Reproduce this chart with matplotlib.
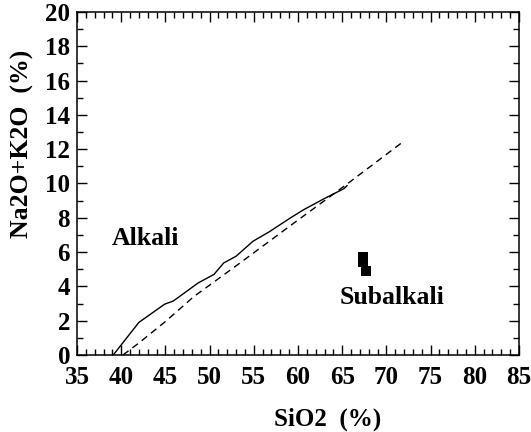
import matplotlib
matplotlib.use("Agg")
import matplotlib.pyplot as plt
from matplotlib.ticker import MultipleLocator

# Boundary lines (SiO2 %, Na2O+K2O %)
solid_x = [39.1, 42.0, 44.9, 45.9, 48.7, 50.5, 51.6, 53.0, 54.9, 56.8, 59.1, 60.6, 62.9, 65.2, 65.6]
solid_y = [0.0, 1.9, 2.96, 3.15, 4.2, 4.7, 5.37, 5.76, 6.63, 7.2, 7.98, 8.46, 9.1, 9.7, 9.9]
dashed_x = [40.2, 42.0, 45.0, 48.2, 53.4, 59.5, 63.0, 65.5, 71.8]
dashed_y = [0.0, 0.7, 1.95, 3.4, 5.35, 7.68, 9.0, 9.95, 12.4]

# Samples
sample_x = [67.4, 67.4, 67.7]
sample_y = [5.7, 5.4, 4.9]

region_labels = ["Alkali", "Subalkali"]
region_x = [42.7, 70.6]
region_y = [6.8, 3.35]

plt.rcParams['font.family'] = ['Liberation Serif', 'DejaVu Serif']
plt.rcParams['font.weight'] = 'bold'

fig = plt.figure(figsize=(5.31, 4.32), dpi=100)
ax = fig.add_axes([77/531, 1 - 355/432, 442/531, 343/432])

ax.plot(solid_x, solid_y, color='black', lw=1.0, solid_capstyle='butt')
ax.plot(dashed_x, dashed_y, color='black', lw=1.0, dashes=(5, 3.5))
ax.scatter(sample_x, sample_y, marker='s', s=50, color='black', zorder=3, linewidths=0)

for t, x, y in zip(region_labels, region_x, region_y):
    ax.text(x, y, t, ha='center', va='center', fontsize=18.5, fontweight='bold')

ax.set_xlim(35, 85)
ax.set_ylim(0, 20)
ax.xaxis.set_major_locator(MultipleLocator(5))
ax.xaxis.set_minor_locator(MultipleLocator(1))
ax.yaxis.set_major_locator(MultipleLocator(2))
ax.yaxis.set_minor_locator(MultipleLocator(1))
ax.tick_params(which='both', direction='in', top=True, right=True, width=1.0)
ax.tick_params(which='major', length=7, labelsize=18)
ax.tick_params(which='minor', length=4)
ax.tick_params(axis='x', which='major', pad=8)
ax.tick_params(axis='y', which='major', pad=5)
for lab in ax.get_xticklabels() + ax.get_yticklabels():
    lab.set_fontweight('bold')
for s in ax.spines.values():
    s.set_linewidth(1.1)

ax.set_xlabel("SiO2  (%)", fontsize=18, fontweight='bold')
ax.set_ylabel("Na2O+K2O  (%)", fontsize=18.5, fontweight='bold')
ax.xaxis.set_label_coords(0.566, -0.152)
ax.yaxis.set_label_coords(-0.097, 0.615)

fig.savefig("out.png", dpi=100)
